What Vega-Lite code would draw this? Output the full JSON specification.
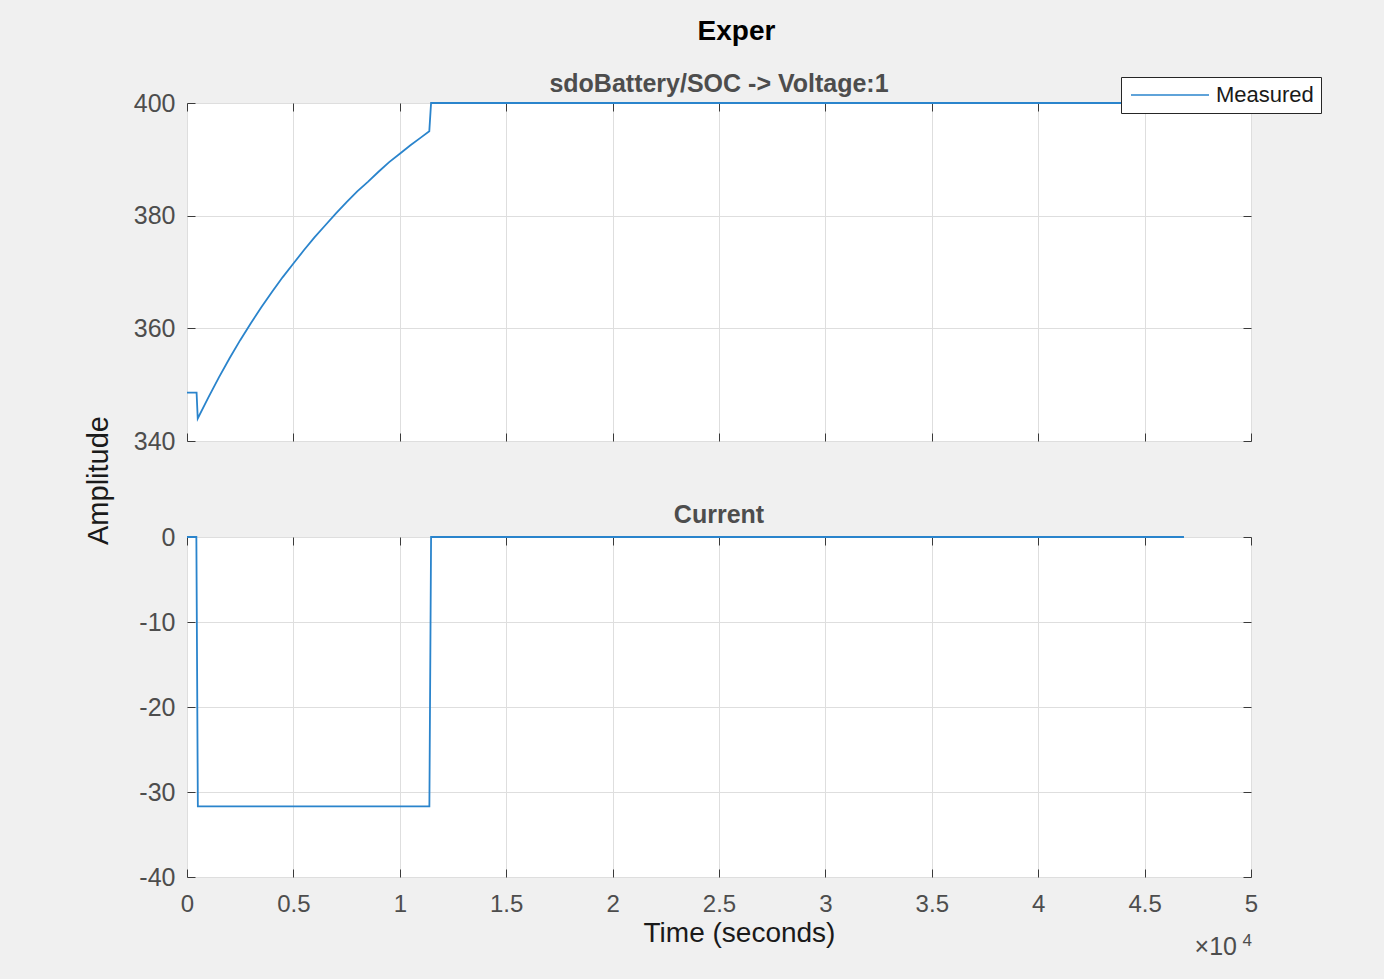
{
  "$schema": "https://vega.github.io/schema/vega-lite/v6.json",
  "background": "#f0f0f0",
  "autosize": {"type": "pad"},
  "padding": {"left": 83, "top": 17, "right": 62, "bottom": 19},
  "bounds": "flush",
  "spacing": 96,
  "title": {"text": "Exper", "fontSize": 28, "font": "Liberation Sans", "fontWeight": "bold", "color": "#000000", "anchor": "middle", "offset": 26, "dx": 34},
  "datasets": {
    "voltage": [
      {"t": 0, "v": 348.6, "s": "Measured"},
      {"t": 450, "v": 348.6, "s": "Measured"},
      {"t": 505, "v": 344.0, "s": "Measured"},
      {"t": 1000, "v": 347.7, "s": "Measured"},
      {"t": 1500, "v": 351.3, "s": "Measured"},
      {"t": 2000, "v": 354.7, "s": "Measured"},
      {"t": 2500, "v": 357.9, "s": "Measured"},
      {"t": 3000, "v": 360.9, "s": "Measured"},
      {"t": 3500, "v": 363.8, "s": "Measured"},
      {"t": 4000, "v": 366.5, "s": "Measured"},
      {"t": 4500, "v": 369.1, "s": "Measured"},
      {"t": 5000, "v": 371.5, "s": "Measured"},
      {"t": 5500, "v": 373.9, "s": "Measured"},
      {"t": 6000, "v": 376.2, "s": "Measured"},
      {"t": 6500, "v": 378.3, "s": "Measured"},
      {"t": 7000, "v": 380.4, "s": "Measured"},
      {"t": 7500, "v": 382.4, "s": "Measured"},
      {"t": 8000, "v": 384.3, "s": "Measured"},
      {"t": 8500, "v": 386.0, "s": "Measured"},
      {"t": 9000, "v": 387.8, "s": "Measured"},
      {"t": 9500, "v": 389.5, "s": "Measured"},
      {"t": 10000, "v": 391.0, "s": "Measured"},
      {"t": 10500, "v": 392.5, "s": "Measured"},
      {"t": 11000, "v": 393.9, "s": "Measured"},
      {"t": 11386, "v": 395.0, "s": "Measured"},
      {"t": 11470, "v": 400, "s": "Measured"},
      {"t": 46850, "v": 400, "s": "Measured"}
    ],
    "current": [
      {"t": 0, "c": 0},
      {"t": 440, "c": 0},
      {"t": 510, "c": -31.7},
      {"t": 11390, "c": -31.7},
      {"t": 11470, "c": 0},
      {"t": 46850, "c": 0}
    ]
  },
  "config": {
    "font": "Liberation Sans",
    "view": {"stroke": "#6e6e6e", "strokeWidth": 1, "fill": "#ffffff"},
    "axis": {
      "labelFont": "Liberation Sans",
      "labelFontSize": 25,
      "labelColor": "#4d4d4d",
      "labelFlush": false,
      "tickColor": "#3a3a3a",
      "tickSize": -8,
      "tickWidth": 1,
      "domain": false,
      "gridColor": "#dedede",
      "gridWidth": 1,
      "titleFont": "Liberation Sans",
      "titleFontWeight": "normal",
      "titleFontSize": 28,
      "titleColor": "#1a1a1a"
    },
    "title": {"font": "Liberation Sans"}
  },
  "vconcat": [
    {
      "width": 1064,
      "height": 338,
      "title": {"text": "sdoBattery/SOC -> Voltage:1", "fontSize": 25, "fontWeight": "bold", "color": "#4d4d4d", "offset": -6},
      "data": {"name": "voltage"},
      "layer": [
        {
          "mark": {"type": "line", "strokeWidth": 1.8},
          "encoding": {
            "x": {"field": "t", "type": "quantitative", "scale": {"domain": [0, 50000], "nice": false, "zero": false},
                  "axis": {"values": [0, 5000, 10000, 15000, 20000, 25000, 30000, 35000, 40000, 45000, 50000], "labels": false, "title": null, "grid": true}},
            "y": {"field": "v", "type": "quantitative", "scale": {"domain": [340, 400], "nice": false, "zero": false},
                  "axis": {"values": [340, 360, 380, 400], "labelExpr": "'' + datum.value", "labelPadding": 20, "grid": true,
                           "title": "Amplitude", "titleFontSize": 29, "titleX": -74, "titleY": 377, "titleAngle": -90, "titleAlign": "center", "titleBaseline": "bottom"}},
            "color": {"field": "s", "type": "nominal", "scale": {"range": ["#2a84cc"]},
                      "legend": {"title": null, "orient": "none", "legendX": 934, "legendY": -26, "fillColor": "#ffffff", "strokeColor": "#262626",
                                 "padding": 7, "symbolType": "M-1,0H8.75", "symbolSize": 256, "symbolStrokeWidth": 1.5, "labelFontSize": 22,
                                 "labelColor": "#1a1a1a", "labelOffset": 66, "labelFont": "Liberation Sans"}}
          }
        },
        {
          "mark": {"type": "line", "opacity": 0},
          "encoding": {
            "x": {"field": "t", "type": "quantitative",
                  "axis": {"orient": "top", "values": [0, 5000, 10000, 15000, 20000, 25000, 30000, 35000, 40000, 45000, 50000], "labels": false, "title": null, "grid": false}},
            "y": {"field": "v", "type": "quantitative",
                  "axis": {"orient": "right", "values": [340, 360, 380, 400], "labels": false, "title": null, "grid": false}}
          }
        }
      ],
      "resolve": {"axis": {"x": "independent", "y": "independent"}}
    },
    {
      "width": 1064,
      "height": 340,
      "title": {"text": "Current", "fontSize": 25, "fontWeight": "bold", "color": "#4d4d4d", "offset": -3},
      "data": {"name": "current"},
      "layer": [
        {
          "mark": {"type": "line", "strokeWidth": 1.8, "color": "#2a84cc"},
          "encoding": {
            "x": {"field": "t", "type": "quantitative", "scale": {"domain": [0, 50000], "nice": false, "zero": false},
                  "axis": {"values": [0, 5000, 10000, 15000, 20000, 25000, 30000, 35000, 40000, 45000, 50000], "labelExpr": "'' + (datum.value / 10000)",
                           "labelPadding": 23, "labelFontSize": 24, "grid": true, "title": "Time (seconds)", "titleX": 552, "titleY": 42, "titleAlign": "center", "titleBaseline": "top"}},
            "y": {"field": "c", "type": "quantitative", "scale": {"domain": [-40, 0], "nice": false, "zero": false},
                  "axis": {"values": [-40, -30, -20, -10, 0], "labelExpr": "'' + datum.value", "labelPadding": 20, "grid": true, "title": null}}
          }
        },
        {
          "mark": {"type": "line", "opacity": 0},
          "encoding": {
            "x": {"field": "t", "type": "quantitative",
                  "axis": {"orient": "top", "values": [0, 5000, 10000, 15000, 20000, 25000, 30000, 35000, 40000, 45000, 50000], "labels": false, "title": null, "grid": false}},
            "y": {"field": "c", "type": "quantitative",
                  "axis": {"orient": "right", "values": [-40, -30, -20, -10, 0], "labels": false, "title": null, "grid": false}}
          }
        },
        {
          "data": {"values": [{}]},
          "mark": {"type": "text", "align": "right", "baseline": "alphabetic", "dx": -14, "dy": 78, "fontSize": 25, "color": "#4d4d4d", "font": "Liberation Sans"},
          "encoding": {
            "x": {"datum": 50000, "type": "quantitative", "axis": null},
            "y": {"datum": -40, "type": "quantitative", "axis": null},
            "text": {"value": "×10"}
          }
        },
        {
          "data": {"values": [{}]},
          "mark": {"type": "text", "align": "right", "baseline": "alphabetic", "dx": 1, "dy": 69, "fontSize": 17, "color": "#4d4d4d", "font": "Liberation Sans"},
          "encoding": {
            "x": {"datum": 50000, "type": "quantitative", "axis": null},
            "y": {"datum": -40, "type": "quantitative", "axis": null},
            "text": {"value": "4"}
          }
        }
      ],
      "resolve": {"axis": {"x": "independent", "y": "independent"}}
    }
  ]
}
